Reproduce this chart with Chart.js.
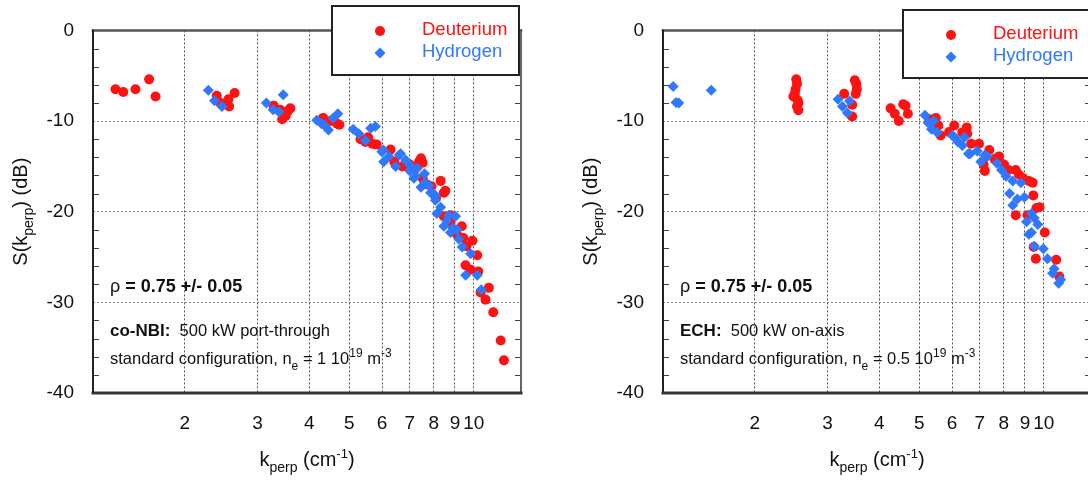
<!DOCTYPE html>
<html>
<head>
<meta charset="utf-8">
<script src="https://cdn.jsdelivr.net/npm/chart.js@4.4.1/dist/chart.umd.min.js"></script>
<style>
  html, body { margin: 0; padding: 0; background: #fff; overflow: hidden; }
  body { width: 1088px; height: 480px; position: relative; }
  canvas { position: absolute; top: 0; }
  #nbi { left: 0; }
  #ech { left: 570px; }
</style>
</head>
<body>
<canvas id="nbi" width="544" height="480"></canvas>
<canvas id="ech" width="544" height="480"></canvas>
<script>
const FONT = '"Liberation Sans", Arial, sans-serif';
const RED = '#ff1212';
const BLUE = '#2f78ff';

// axis ticks
const kTicks = [2, 3, 4, 5, 6, 7, 8, 9, 10];
const sTicks = [-40, -30, -20, -10, 0];
const sMinor = [-38, -36, -34, -32, -28, -26, -24, -22, -18, -16, -14, -12, -8, -6, -4, -2];

// co-NBI, deuterium: k_perp (1/cm) and S (dB)
const nbiDeutK = [1.36, 1.42, 1.52, 1.64, 1.70, 2.39, 2.44, 2.55, 2.56, 2.64,
  3.28, 3.40, 3.44, 3.51, 3.55, 3.60, 4.32, 4.50, 4.67, 4.73,
  5.32, 5.47, 5.55, 5.68, 5.82, 6.29, 6.42, 6.72, 7.00, 7.37,
  7.45, 7.52, 7.52, 7.71, 8.31, 8.46, 8.53, 8.46, 8.78, 8.78,
  9.00, 9.35, 9.43, 9.60, 9.92, 10.19, 9.55, 9.82, 10.25, 10.87,
  10.38, 10.67, 11.14, 11.61, 11.82, 7.20, 7.90, 8.10, 9.10];
const nbiDeutS = [-6.5, -6.8, -6.5, -5.4, -7.3, -7.2, -8.0, -7.6, -8.4, -6.9,
  -8.3, -8.75, -9.8, -9.4, -8.9, -8.6, -9.65, -10.0, -10.3, -10.4,
  -12.0, -12.3, -11.8, -12.5, -12.6, -13.15, -14.5, -15.0, -14.8, -14.5,
  -14.1, -14.6, -16.3, -17.0, -16.6, -17.9, -17.7, -20.5, -21.25, -20.4,
  -22.0, -21.6, -22.9, -23.8, -23.2, -24.8, -25.9, -26.4, -26.6, -28.4,
  -28.9, -29.7, -31.1, -34.2, -36.4, -15.3, -17.2, -18.5, -22.5];

// co-NBI, hydrogen
const nbiHydK = [2.28, 2.36, 2.46, 3.15, 3.27, 3.38, 3.46, 4.17, 4.28, 4.34,
  4.45, 4.57, 4.69, 5.11, 5.27, 5.47, 5.63, 5.78, 5.99, 6.04,
  6.05, 6.23, 6.47, 6.60, 6.65, 6.84, 6.86, 7.00, 7.05, 7.16,
  7.23, 7.45, 7.60, 7.79, 7.86, 7.97, 8.07, 8.07, 8.31, 8.14,
  8.70, 9.03, 8.46, 8.78, 9.19, 9.37, 9.82, 9.55, 10.19, 10.42,
  7.30, 7.60, 8.60, 8.90, 9.10];
const nbiHydS = [-6.6, -7.75, -8.4, -8.0, -8.75, -9.0, -7.1, -9.9, -10.3, -10.4,
  -11.0, -9.65, -9.2, -10.9, -11.4, -12.15, -10.8, -10.6, -13.4, -13.2,
  -14.5, -13.9, -15.0, -13.75, -13.6, -14.3, -14.5, -15.5, -15.0, -16.3,
  -16.1, -17.3, -15.8, -17.1, -17.9, -18.0, -18.2, -18.75, -19.5, -20.2,
  -20.4, -20.5, -21.6, -22.3, -23.0, -23.9, -24.65, -27.0, -27.0, -28.6,
  -15.2, -16.8, -21.0, -21.8, -22.0];

// ECH, deuterium
const echDeutK = [2.52, 2.53, 2.51, 2.50, 2.48, 2.54, 2.55, 2.53, 2.55, 3.29,
  3.44, 3.44, 3.49, 3.52, 3.51, 3.53, 4.26, 4.36, 4.46, 4.57,
  4.63, 4.69, 5.28, 5.48, 5.56, 5.63, 6.07, 6.35, 6.51, 6.53,
  6.67, 6.97, 7.15, 7.20, 7.38, 7.79, 8.01, 8.20, 8.55, 8.70,
  9.20, 9.40, 8.55, 9.13, 9.43, 9.60, 9.76, 10.05, 9.45, 9.56,
  10.71, 10.90, 5.90, 7.60, 8.90];
const echDeutS = [-5.4, -5.9, -6.5, -7.0, -7.3, -7.7, -8.0, -8.4, -8.8, -7.0,
  -9.5, -8.2, -5.5, -5.9, -7.0, -6.5, -8.6, -9.2, -10.0, -8.15,
  -8.3, -9.2, -9.8, -9.65, -10.5, -11.6, -10.5, -11.25, -10.7, -11.4,
  -12.5, -12.5, -14.8, -15.5, -13.2, -13.9, -14.8, -15.4, -15.4, -15.9,
  -16.6, -16.8, -20.4, -20.4, -18.2, -19.6, -19.5, -22.3, -23.9, -25.2,
  -25.3, -27.15, -11.2, -14.2, -16.3];

// ECH, hydrogen
const echHydK = [1.27, 1.29, 1.31, 1.57, 3.18, 3.26, 3.35, 3.39, 5.16, 5.25,
  5.35, 5.41, 5.52, 6.00, 6.09, 6.20, 6.35, 6.43, 6.57, 6.63,
  6.90, 7.04, 7.20, 7.30, 7.70, 7.90, 8.10, 8.41, 8.80, 8.26,
  8.41, 8.63, 8.97, 9.33, 9.48, 9.67, 9.20, 9.08, 9.33, 9.48,
  9.97, 10.20, 10.59, 10.50, 10.98, 10.86];
const echHydS = [-6.2, -7.95, -8.0, -6.6, -7.6, -8.4, -9.1, -7.8, -9.35, -10.2,
  -10.9, -10.0, -11.25, -11.6, -11.8, -12.3, -12.7, -11.8, -13.6, -13.6,
  -13.3, -14.5, -13.75, -13.9, -14.65, -15.4, -16.1, -16.6, -16.8, -18.0,
  -19.3, -18.6, -18.4, -20.2, -20.7, -21.4, -22.5, -21.1, -22.3, -23.8,
  -24.1, -25.2, -26.3, -26.8, -27.5, -27.9];

const f = (size, bold) => (bold ? 'bold ' : '') + size + 'px ' + FONT;
const pts = (k, s) => k.map((x, i) => ({ x, y: s[i] }));

function richWidth(ctx, parts) {
  let w = 0;
  for (const p of parts) { ctx.font = p.font; w += ctx.measureText(p.t).width; }
  return w;
}
function drawRich(ctx, x, y, parts) {
  for (const p of parts) {
    ctx.font = p.font;
    ctx.fillText(p.t, x, y + (p.dy || 0));
    x += ctx.measureText(p.t).width;
  }
}

const yTitle = [
  { t: 'S(k', font: f(20) }, { t: 'perp', font: f(14), dy: 6 }, { t: ') (dB)', font: f(20) },
];
const xTitle = [
  { t: 'k', font: f(20) }, { t: 'perp', font: f(14), dy: 6 }, { t: ' (cm', font: f(20) },
  { t: '-1', font: f(13), dy: -8 }, { t: ')', font: f(20) },
];

const panelDecor = {
  id: 'panelDecor',
  afterDraw(chart, args, opts) {
    const { ctx, chartArea: a, scales: { y } } = chart;
    ctx.save();

    // minor ticks, pointing inward from both sides
    ctx.strokeStyle = '#444';
    ctx.lineWidth = 1;
    ctx.beginPath();
    for (const v of sMinor) {
      const py = Math.round(y.getPixelForValue(v)) + 0.5;
      ctx.moveTo(a.left, py); ctx.lineTo(a.left + 6, py);
      ctx.moveTo(a.right - 6, py); ctx.lineTo(a.right, py);
    }
    ctx.stroke();

    // frame
    ctx.lineCap = 'square';
    ctx.strokeStyle = '#666'; ctx.lineWidth = 2;
    ctx.beginPath(); ctx.moveTo(a.right, a.top); ctx.lineTo(a.right, a.bottom); ctx.stroke();
    ctx.strokeStyle = '#555'; ctx.lineWidth = 2.5;
    ctx.beginPath(); ctx.moveTo(a.left, a.top); ctx.lineTo(a.right, a.top); ctx.stroke();
    ctx.strokeStyle = '#222'; ctx.lineWidth = 2;
    ctx.beginPath(); ctx.moveTo(a.left, a.top); ctx.lineTo(a.left, a.bottom); ctx.stroke();
    ctx.strokeStyle = '#333'; ctx.lineWidth = 3;
    ctx.beginPath(); ctx.moveTo(a.left, a.bottom); ctx.lineTo(a.right, a.bottom); ctx.stroke();

    // annotation block
    ctx.fillStyle = '#111';
    ctx.textAlign = 'left';
    ctx.textBaseline = 'alphabetic';
    for (const n of opts.notes) drawRich(ctx, a.left + 17, n.y, n.parts);

    // axis titles
    const midX = (a.left + a.right) / 2;
    const midY = (a.top + a.bottom) / 2;
    drawRich(ctx, midX - richWidth(ctx, xTitle) / 2, 466, xTitle);
    ctx.save();
    ctx.translate(27, midY);
    ctx.rotate(-Math.PI / 2);
    drawRich(ctx, -richWidth(ctx, yTitle) / 2, 0, yTitle);
    ctx.restore();

    // legend
    const b = opts.legendBox;
    ctx.fillStyle = '#fff';
    ctx.fillRect(b.x, b.y, b.w, b.h);
    ctx.strokeStyle = '#222'; ctx.lineWidth = 2; ctx.lineCap = 'butt';
    ctx.strokeRect(b.x, b.y, b.w, b.h);
    const items = chart.data.datasets.slice().reverse();
    items.forEach((ds, i) => {
      const cy = b.y + 25 + i * 22;
      const cx = b.x + 48;
      ctx.fillStyle = ds.backgroundColor;
      ctx.beginPath();
      if (ds.pointStyle === 'circle') {
        ctx.arc(cx, cy, ds.pointRadius, 0, Math.PI * 2);
      } else {
        const r = ds.pointRadius;
        ctx.moveTo(cx, cy - r); ctx.lineTo(cx + r, cy); ctx.lineTo(cx, cy + r); ctx.lineTo(cx - r, cy);
        ctx.closePath();
      }
      ctx.fill();
      ctx.font = f(18.5);
      ctx.textBaseline = 'middle';
      ctx.fillText(ds.label, b.x + 90, cy - 1);
    });
    ctx.restore();
  }
};

function panel(id, deut, hyd, notes, legendBox) {
  return new Chart(document.getElementById(id), {
    type: 'scatter',
    data: {
      datasets: [
        { label: 'Hydrogen', data: hyd, pointStyle: 'rectRot', pointRadius: 5.5,
          backgroundColor: BLUE, borderWidth: 0, order: 1 },
        { label: 'Deuterium', data: deut, pointStyle: 'circle', pointRadius: 5,
          backgroundColor: RED, borderWidth: 0, order: 2 },
      ],
    },
    options: {
      responsive: false,
      devicePixelRatio: 1,
      animation: false,
      events: [],
      layout: { padding: { left: 0, top: 20, right: 23, bottom: 0 } },
      plugins: {
        legend: { display: false },
        tooltip: { enabled: false },
        panelDecor: { notes, legendBox },
      },
      scales: {
        x: {
          type: 'logarithmic',
          min: 1.2,
          max: 13,
          afterBuildTicks: (s) => { s.ticks = kTicks.map((v) => ({ value: v })); },
          afterFit: (s) => { s.height = 87; },
          ticks: {
            autoSkip: false, maxRotation: 0, padding: 19,
            color: '#111', font: { family: FONT, size: 19 },
            callback: (v) => String(v),
          },
          grid: { color: '#555', lineWidth: 1, drawTicks: false },
          border: { display: false, dash: [2, 2] },
        },
        y: {
          min: -40,
          max: 0,
          afterBuildTicks: (s) => { s.ticks = sTicks.map((v) => ({ value: v })); },
          afterFit: (s) => { s.width = 93; },
          ticks: {
            autoSkip: false, padding: 19,
            color: '#111', font: { family: FONT, size: 19 },
            callback: (v) => String(v),
          },
          grid: {
            color: (c) => (c.tick && (c.tick.value === 0 || c.tick.value === -40) ? 'rgba(0,0,0,0)' : '#888'),
            lineWidth: 1, drawTicks: false,
          },
          border: { display: false, dash: [2, 2] },
        },
      },
    },
    plugins: [panelDecor],
  });
}

const rhoLine = { y: 292, parts: [{ t: 'ρ ', font: f(18) }, { t: '= 0.75 +/- 0.05', font: f(18, true) }] };

panel('nbi', pts(nbiDeutK, nbiDeutS), pts(nbiHydK, nbiHydS), [
  rhoLine,
  { y: 336, parts: [{ t: 'co-NBI:', font: f(17, true) }, { t: '  500 kW port-through', font: f(16.5) }] },
  { y: 364, parts: [
    { t: 'standard configuration, n', font: f(16.5) }, { t: 'e', font: f(12), dy: 6 },
    { t: ' = 1 10', font: f(16.5) }, { t: '19', font: f(12), dy: -7 },
    { t: ' m', font: f(16.5) }, { t: '-3', font: f(12), dy: -7 },
  ] },
], { x: 332, y: 6, w: 187, h: 69 });

panel('ech', pts(echDeutK, echDeutS), pts(echHydK, echHydS), [
  rhoLine,
  { y: 336, parts: [{ t: 'ECH:', font: f(17, true) }, { t: '  500 kW on-axis', font: f(16.5) }] },
  { y: 364, parts: [
    { t: 'standard configuration, n', font: f(16.5) }, { t: 'e', font: f(12), dy: 6 },
    { t: ' = 0.5 10', font: f(16.5) }, { t: '19', font: f(12), dy: -7 },
    { t: ' m', font: f(16.5) }, { t: '-3', font: f(12), dy: -7 },
  ] },
], { x: 333, y: 10, w: 187, h: 68 });
</script>
</body>
</html>
